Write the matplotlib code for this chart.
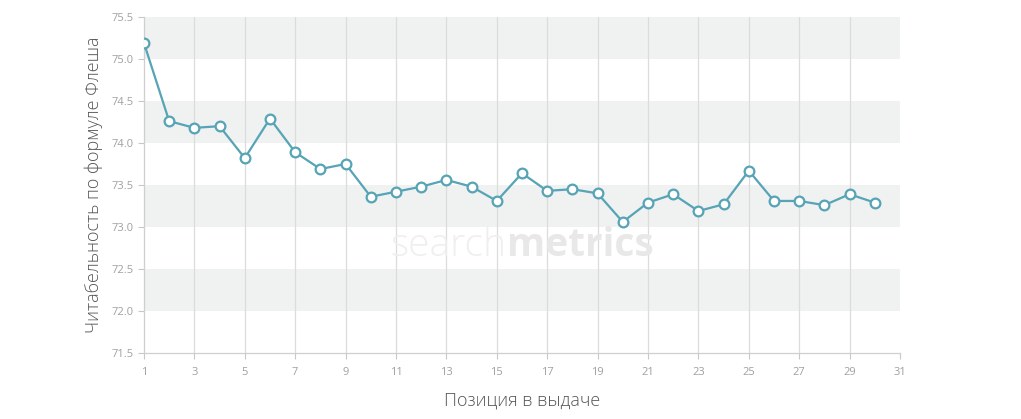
import matplotlib
matplotlib.use("Agg")
import matplotlib.pyplot as plt
import numpy as np

positions = list(range(1, 31))
flesch = [75.19, 74.26, 74.18, 74.20, 73.82, 74.29, 73.89, 73.69, 73.75, 73.36,
          73.42, 73.48, 73.56, 73.48, 73.31, 73.64, 73.43, 73.45, 73.40, 73.06,
          73.29, 73.39, 73.19, 73.27, 73.67, 73.31, 73.31, 73.26, 73.39, 73.29]
x_ticks = list(range(1, 32, 2))
y_ticks = [71.5, 72.0, 72.5, 73.0, 73.5, 74.0, 74.5, 75.0, 75.5]
x_label = "Позиция в выдаче"
y_label = "Читабельность по формуле Флеша"

plt.rcParams['font.family'] = ['Open Sans', 'DejaVu Sans']

fig = plt.figure(figsize=(10.21, 4.19), dpi=100)
ax = fig.add_axes([0.141, 0.1575, 0.7405, 0.802])

# alternating bands
for lo in [72.0, 73.0, 74.0, 75.0]:
    ax.axhspan(lo, lo + 0.5, color="#f0f1f1", zorder=0, lw=0)

for xv in x_ticks[1:-1]:
    ax.axvline(xv, color="#dcdcdc", lw=0.9, zorder=1)

# watermark
ax.text(0.48, 0.32, "search", transform=ax.transAxes, ha="right", va="center",
        fontsize=28, color="#efefef", fontweight="light", zorder=1)
ax.text(0.48, 0.32, "metrics", transform=ax.transAxes, ha="left", va="center",
        fontsize=28, color="#e8e8e8", fontweight="bold", zorder=1)

ax.plot(positions, flesch, color="#56a4b5", lw=1.6, marker="o", markersize=7,
        markerfacecolor="white", markeredgecolor="#56a4b5", markeredgewidth=1.6, zorder=3)

ax.set_xlim(1, 31)
ax.set_ylim(71.5, 75.5)
ax.set_xticks(x_ticks)
ax.set_yticks(y_ticks)
ax.set_yticklabels([f"{v:.1f}" for v in y_ticks])
ax.tick_params(axis="both", colors="#c8c8c8", labelcolor="#a0a0a0", labelsize=8, length=4, width=0.8)
ax.tick_params(axis="x", pad=6)

for s in ["top", "right"]:
    ax.spines[s].set_visible(False)
for s in ["left", "bottom"]:
    ax.spines[s].set_color("#cfcfcf")
    ax.spines[s].set_linewidth(0.9)

ax.set_xlabel(x_label, fontsize=13, color="#555555", labelpad=10, fontweight="light")
ax.set_ylabel(y_label, fontsize=13, color="#555555", labelpad=6, fontweight="light")

fig.savefig("out.png", dpi=100)
